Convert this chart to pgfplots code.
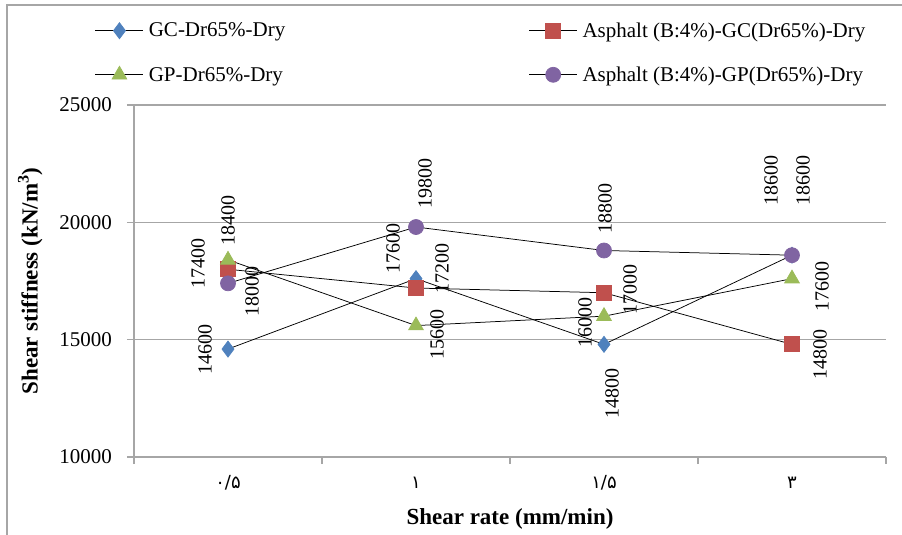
\documentclass[border=0pt]{standalone}
\usepackage{fontspec}
\setmainfont{Liberation Serif}
\newfontfamily\arabicfont[Script=Arabic]{DejaVu Sans}
\usepackage{pgfplots}
\usepackage{pgfplotstable}
\pgfplotsset{compat=1.18}
\definecolor{cBlue}{HTML}{4F81BD}
\definecolor{cRed}{HTML}{C0504D}
\definecolor{cGreen}{HTML}{9BBB59}
\definecolor{cPurple}{HTML}{8064A2}
\definecolor{gridc}{HTML}{A6A6A6}
\newcommand{\lab}{\fontsize{20bp}{24bp}\selectfont}
\newcommand{\tk}{\fontsize{21bp}{25bp}\selectfont}

\pgfplotstableread{
x y dx dy lab
0 14600 -23 0 14600
1 17600 -23 30 17600
2 14800 8 -49 14800
3 18600 -21 75 18600
}\gcdata
\pgfplotstableread{
x y dx dy lab
0 18000 24 -22 18000
1 17200 26 20 17200
2 17000 26 3 17000
3 14800 28 -10 14800
}\agcdata
\pgfplotstableread{
x y dx dy lab
0 18400 0 39 18400
1 15600 21 -9 15600
2 16000 -19 -6 16000
3 17600 30 -8 17600
}\gpdata
\pgfplotstableread{
x y dx dy lab
0 17400 -30 20 17400
1 19800 9 44 19800
2 18800 1 42 18800
3 18600 11 75 18600
}\agpdata

\pgfplotsset{
  labelplot/.style={forget plot, draw=none, mark=none,
    point meta=explicit symbolic,
    nodes near coords={\pgfplotspointmeta},
    nodes near coords align={center},
    visualization depends on={\thisrow{dx}\as\dx},
    visualization depends on={\thisrow{dy}\as\dy},
    every node near coord/.append style={font=\lab, text=black, anchor=center, inner sep=0pt, xshift=\dx bp, yshift=\dy bp, rotate=90}},
}

\begin{document}
\begin{tikzpicture}
\useasboundingbox (0,0) rectangle (902bp,535bp);
\draw[gridc, line width=1.5bp] (7bp,0bp) -- (7bp,530bp) -- (902bp,530bp);
\begin{axis}[
  at={(134bp,78bp)}, anchor=south west,
  scale only axis, width=752bp, height=352bp,
  xmin=-0.5, xmax=3.5, ymin=10000, ymax=25000,
  axis x line*=bottom, axis y line*=left,
  axis line style={gridc, line width=1.5bp},
  tick style={gridc, line width=1.5bp},
  major y tick style={gridc, line width=1.5bp},
  tick align=outside,
  xtick={0,1,2,3},
  xticklabels={{\arabicfont ۰/۵},{\arabicfont ۱},{\arabicfont ۱/۵},{\arabicfont ۳}},
  major x tick style={draw=none},
  minor xtick={-0.5,0.5,1.5,2.5,3.5},
  minor tick length=7bp,
  major tick length=7bp,
  xticklabel style={font=\fontsize{18bp}{22bp}\selectfont, anchor=center, yshift=-19bp},
  ytick={10000,15000,20000,25000},
  yticklabels={10000,15000,20000,25000},
  scaled y ticks=false,
  yticklabel style={font=\tk, anchor=east, inner sep=0pt, xshift=-15bp},
  ymajorgrids, major grid style={gridc, line width=1.5bp},
  xlabel={\textbf{Shear rate (mm/min)}},
  xlabel style={font=\fontsize{23bp}{27bp}\selectfont, at={(axis description cs:0.5,-0.176)}, anchor=center},
  ylabel={\textbf{Shear stiffness (kN/m\textsuperscript{3})}},
  ylabel style={font=\fontsize{23bp}{27bp}\selectfont, at={(axis description cs:-0.138,0.5)}, anchor=center, rotate=0},
  clip=false,
  legend columns=2,
  legend style={at={(axis description cs:-0.052,1.24)}, anchor=north west, draw=none, fill=none,
    font=\tk, inner sep=0pt, row sep=24bp, cells={anchor=west},
    /tikz/every odd column/.append style={column sep=3bp}},
  legend image code/.code={\draw[mark repeat=2,mark phase=2,#1] plot coordinates {(0bp,0bp) (24bp,0bp) (48bp,0bp)};},
]
\addplot[black, line width=0.75bp, mark=diamond*, mark size=8bp, mark options={draw=cBlue, fill=cBlue}] table[x=x, y=y] {\gcdata};
\addlegendentry{\makebox[378bp][l]{GC-Dr65\%-Dry}}
\addplot[black, line width=0.75bp, mark=square*, mark size=7.5bp, mark options={draw=cRed, fill=cRed}] table[x=x, y=y] {\agcdata};
\addlegendentry{Asphalt (B:4\%)-GC(Dr65\%)-Dry}
\addplot[black, line width=0.75bp, mark=triangle*, mark size=8.5bp, mark options={draw=cGreen, fill=cGreen}] table[x=x, y=y] {\gpdata};
\addlegendentry{\makebox[378bp][l]{GP-Dr65\%-Dry}}
\addplot[black, line width=0.75bp, mark=*, mark size=7.5bp, mark options={draw=cPurple, fill=cPurple}] table[x=x, y=y] {\agpdata};
\addlegendentry{Asphalt (B:4\%)-GP(Dr65\%)-Dry}
\addplot[labelplot] table[x=x, y=y, meta=lab] {\gcdata};
\addplot[labelplot] table[x=x, y=y, meta=lab] {\agcdata};
\addplot[labelplot] table[x=x, y=y, meta=lab] {\gpdata};
\addplot[labelplot] table[x=x, y=y, meta=lab] {\agpdata};
\end{axis}
\end{tikzpicture}
\end{document}
